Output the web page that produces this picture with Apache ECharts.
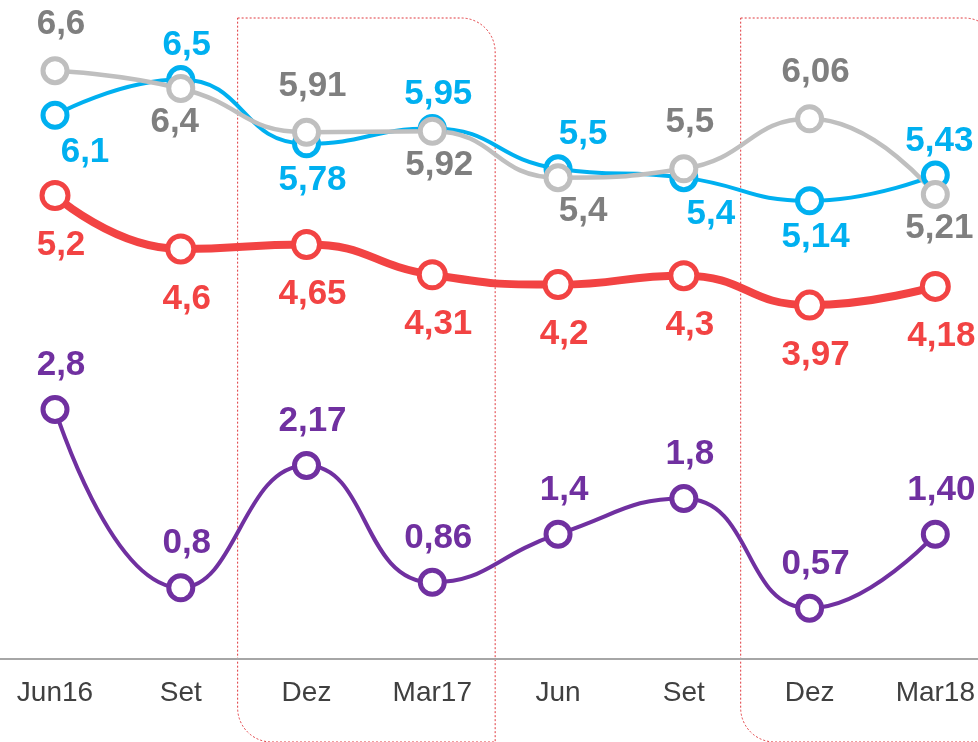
<!DOCTYPE html>
<html>
<head>
<meta charset="utf-8">
<script src="https://cdn.jsdelivr.net/npm/echarts@6/dist/echarts.min.js"></script>
<style>
html, body { margin: 0; padding: 0; background: #fff; }
#chart { width: 978px; height: 742px; }
</style>
</head>
<body>
<div id="chart"></div>
<script>
// dados
var categories = ['Jun16', 'Set', 'Dez', 'Mar17', 'Jun', 'Set', 'Dez', 'Mar18'];
var blueValues = [6.1, 6.5, 5.78, 5.95, 5.5, 5.4, 5.14, 5.43];
var greyValues = [6.6, 6.4, 5.91, 5.92, 5.4, 5.5, 6.06, 5.21];
var redValues = [5.2, 4.6, 4.65, 4.31, 4.2, 4.3, 3.97, 4.18];
var purpleValues = [2.8, 0.8, 2.17, 0.86, 1.4, 1.8, 0.57, 1.40];
// casas decimais mostradas (1,40)
var purpleDecimals = [1, 1, 2, 2, 1, 1, 2, 2];

// rotulos: acima / abaixo do ponto
var bluePlace = ['down', 'up', 'down', 'up', 'up', 'down', 'down', 'up'];
var greyPlace = ['up', 'down', 'up', 'down', 'down', 'up', 'up', 'down'];
var blueShift = [30, 6, 6, 6, 25, 27, 6, 4];
var greyShift = [6, -6, 6, 7, 25, 6, 6, 4];

var chart = echarts.init(document.getElementById('chart'));
var FONT = '"Liberation Sans", Arial, sans-serif';

function fmt(v, d) {
    return (d == null ? String(v) : v.toFixed(d)).replace('.', ',');
}

function buildData(values, color, place, shift, upDy, downDy, decimals) {
    return values.map(function (v, i) {
        var p = place ? place[i] : (upDy != null ? 'up' : 'down');
        var dx = shift ? shift[i] : 6;
        return {
            value: v,
            label: {
                show: true,
                position: 'inside',
                offset: [dx, p === 'up' ? upDy : downDy],
                formatter: fmt(v, decimals ? decimals[i] : null),
                color: color,
                fontSize: 35,
                fontWeight: 'bold',
                fontFamily: FONT
            }
        };
    });
}

function lineSeries(name, lineColor, width, size, data) {
    return {
        name: name,
        type: 'line',
        smooth: 0.5,
        symbol: 'circle',
        symbolSize: size,
        lineStyle: { color: lineColor, width: width },
        itemStyle: { color: '#fff', borderColor: lineColor, borderWidth: 5 },
        emphasis: { disabled: true },
        data: data
    };
}

chart.setOption({
    animation: false,
    grid: { left: 55, right: 40, top: 35, bottom: 83 },
    xAxis: {
        type: 'category',
        boundaryGap: false,
        data: categories,
        axisLine: { show: false },
        axisTick: { show: false },
        axisLabel: { fontSize: 28, color: '#404040', margin: 20, fontFamily: FONT }
    },
    yAxis: { type: 'value', min: 0, max: 7, show: false },
    series: [
        lineSeries('purple', '#7030A0', 4, 24,
            buildData(purpleValues, '#7030A0', null, null, -44, null, purpleDecimals)),
        lineSeries('red', '#F24343', 8, 26,
            buildData(redValues, '#F24343', null, null, null, 50)),
        lineSeries('blue', '#00B0F0', 4, 24,
            buildData(blueValues, '#00B0F0', bluePlace, blueShift, -34, 37)),
        lineSeries('grey', '#BFBFBF', 4.5, 24,
            buildData(greyValues, '#7F7F7F', greyPlace, greyShift, -46, 34))
    ]
});

// molduras pontilhadas (Dez-Mar17 e Dez-Mar18) e linha do eixo
function frame(fromIdx, toIdx) {
    var a = chart.convertToPixel({ xAxisIndex: 0 }, fromIdx - 1);
    var b = chart.convertToPixel({ xAxisIndex: 0 }, fromIdx);
    var c = chart.convertToPixel({ xAxisIndex: 0 }, toIdx);
    var step = b - a;
    var left = (a + b) / 2 - 6;
    var right = c + step / 2;
    return {
        type: 'rect',
        silent: true,
        z: -1,
        shape: { x: left, y: 18, width: right - left, height: 742 - 18, r: [0, 34, 0, 34] },
        style: { fill: 'none', stroke: '#E0393E', lineWidth: 1, lineDash: [2, 2] }
    };
}

var axisY = chart.convertToPixel({ yAxisIndex: 0 }, 0);
chart.setOption({
    graphic: [
        frame(2, 3),
        frame(6, 7),
        {
            type: 'line',
            silent: true,
            z: -1,
            shape: { x1: 0, y1: axisY, x2: 978, y2: axisY },
            style: { stroke: '#A6A6A6', lineWidth: 2 }
        }
    ]
});
</script>
</body>
</html>
